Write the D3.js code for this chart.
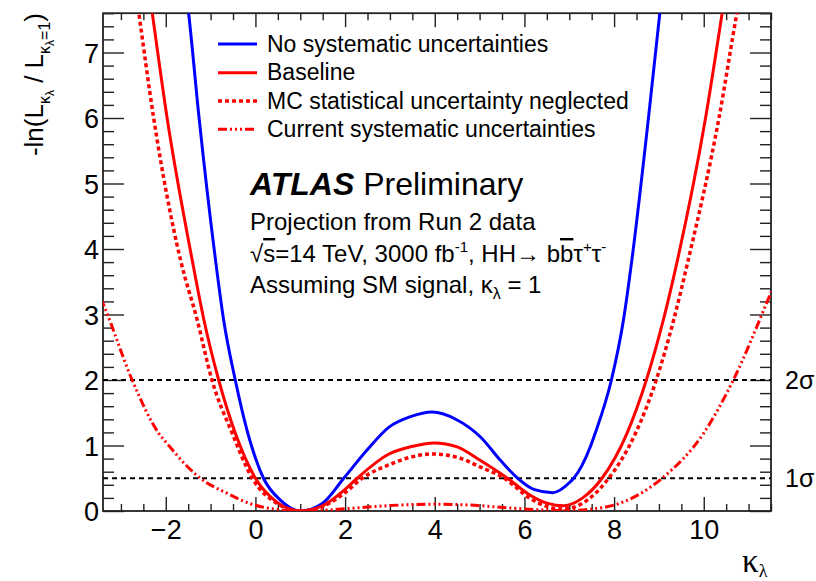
<!DOCTYPE html>
<html><head><meta charset="utf-8">
<script src="https://cdn.jsdelivr.net/npm/d3@7"></script>
<style>
body{margin:0;background:#fff}
text{font-family:"Liberation Sans",Arial,Helvetica,sans-serif;fill:#000}
</style></head>
<body><svg id="c" width="816" height="581"></svg>
<script>
// ---- data ----
const kNoSyst  = [-1.56,-1.49,-1.26,-0.89,-0.71,-0.45,-0.19,0.18,0.55,1.0,1.5,1.97,2.49,2.98,3.46,3.94,4.5,5.02,5.47,5.85,6.21,6.63,7.03,7.1,7.47,7.58,7.94,8.21,8.40,8.77,9.02,9.08];
const vNoSyst  = [8.0,7.6,6.02,3.83,2.92,2.0,1.24,0.5,0.17,0.0,0.12,0.5,0.93,1.28,1.44,1.51,1.39,1.13,0.77,0.5,0.33,0.28,0.45,0.5,0.98,1.19,2.0,2.92,3.85,6.02,7.6,8.0];

const kBaseline = [-2.38,-2.30,-1.97,-1.41,-1.15,-0.82,-0.45,0.0,0.47,1.0,1.5,2.0,2.27,2.98,3.46,3.99,4.5,5.02,5.62,6.13,6.5,6.88,7.3,7.73,8.29,8.72,9.1,9.42,10.04,10.41,10.5];
const vBaseline = [8.0,7.6,6.0,3.83,2.92,2.0,1.19,0.5,0.14,0.0,0.08,0.33,0.5,0.87,0.98,1.04,0.98,0.77,0.5,0.24,0.12,0.08,0.2,0.5,1.19,2.0,2.92,3.85,6.0,7.6,8.0];

const kMCneg = [-2.68,-2.60,-2.27,-1.67,-1.30,-0.97,-0.52,-0.07,0.45,1.0,1.5,2.0,2.38,2.96,3.45,3.94,4.5,5.02,5.55,6.13,6.5,6.88,7.3,7.88,8.48,8.94,9.33,9.66,10.34,10.74,10.85];
const vMCneg = [8.0,7.6,6.0,3.83,2.92,2.0,1.19,0.5,0.13,0.0,0.07,0.28,0.5,0.70,0.82,0.87,0.82,0.67,0.5,0.19,0.07,0.03,0.12,0.5,1.19,2.0,2.92,3.85,6.0,7.6,8.0];

const kCurrent = [-3.45,-3.37,-2.75,-2.16,-1.97,-1.52,-1.23,-0.63,-0.11,0.4,1.0,1.7,2.5,3.2,4.0,4.8,5.6,6.3,6.9,7.5,8.0,9.07,10.0,10.66,11.49,11.6];
const vCurrent = [3.25,3.12,2.0,1.19,1.03,0.68,0.5,0.27,0.11,0.03,0.0,0.02,0.06,0.09,0.105,0.09,0.05,0.02,0.005,0.03,0.09,0.5,1.19,2.0,3.32,3.5];

const xMajor = [-2,0,2,4,6,8,10];
const yMajor = [0,1,2,3,4,5,6,7];
const sigmaLevels = [2.0, 0.5];
const sigmaLabels = ["2σ","1σ"];
const legendLabels = ["No systematic uncertainties","Baseline","MC statistical uncertainty neglected","Current systematic uncertainties"];

// ---- layout ----
const svg = d3.select("#c");
const L=103, R=771, T=13.2, B=511;
const x = d3.scaleLinear().domain([-3.4,11.5]).range([L,R]);
const y = d3.scaleLinear().domain([0,7.6]).range([B,T]);
const xMinor = d3.range(-3,11.51,0.5).filter(v=>!xMajor.includes(v));
const yMinor = d3.range(0,7.61,0.2).map(v=>+v.toFixed(1)).filter(v=>!yMajor.includes(v));

svg.append("defs").append("clipPath").attr("id","clip")
  .append("rect").attr("x",L).attr("y",T).attr("width",R-L).attr("height",B-T);

function styleAxis(g){ g.select(".domain").remove(); g.selectAll("line").attr("stroke","#222").attr("stroke-width",1.4); }

// bottom
svg.append("g").attr("transform",`translate(0,${B})`)
  .call(d3.axisBottom(x).tickValues(xMajor).tickSize(-14).tickPadding(9))
  .call(styleAxis).selectAll("text").attr("font-size",27);
svg.append("g").attr("transform",`translate(0,${B})`)
  .call(d3.axisBottom(x).tickValues(xMinor).tickSize(-7).tickFormat("")).call(styleAxis);
// top
svg.append("g").attr("transform",`translate(0,${T})`)
  .call(d3.axisTop(x).tickValues(xMajor).tickSize(-14).tickFormat("")).call(styleAxis);
svg.append("g").attr("transform",`translate(0,${T})`)
  .call(d3.axisTop(x).tickValues(xMinor).tickSize(-7).tickFormat("")).call(styleAxis);
// left
svg.append("g").attr("transform",`translate(${L},0)`)
  .call(d3.axisLeft(y).tickValues(yMajor).tickSize(-21).tickPadding(4).tickFormat(d3.format("d")))
  .call(styleAxis).selectAll("text").attr("font-size",27).attr("dy","0.36em");
svg.append("g").attr("transform",`translate(${L},0)`)
  .call(d3.axisLeft(y).tickValues(yMinor).tickSize(-11).tickFormat("")).call(styleAxis);
// right
svg.append("g").attr("transform",`translate(${R},0)`)
  .call(d3.axisRight(y).tickValues(yMajor).tickSize(-21).tickFormat("")).call(styleAxis);
svg.append("g").attr("transform",`translate(${R},0)`)
  .call(d3.axisRight(y).tickValues(yMinor).tickSize(-11).tickFormat("")).call(styleAxis);

// frame
svg.append("rect").attr("x",L).attr("y",T).attr("width",R-L).attr("height",B-T)
  .attr("fill","none").attr("stroke","#222").attr("stroke-width",1.8);

// sigma lines
svg.selectAll(".sig").data(sigmaLevels).enter().append("line")
  .attr("x1",L).attr("x2",R).attr("y1",d=>y(d)).attr("y2",d=>y(d))
  .attr("stroke","#000").attr("stroke-width",2).attr("stroke-dasharray","5 4");
svg.selectAll(".sigl").data(sigmaLevels).enter().append("text")
  .attr("x",785).attr("y",d=>y(d)+9).attr("font-size",25).text((d,i)=>sigmaLabels[i]);

// curves
const series = [
  {k:kNoSyst, v:vNoSyst, color:"#0000ff", dash:null, w:3},
  {k:kBaseline, v:vBaseline, color:"#ff0000", dash:null, w:3},
  {k:kMCneg, v:vMCneg, color:"#ff0000", dash:"4 3", w:3.5},
  {k:kCurrent, v:vCurrent, color:"#ff0000", dash:"9 3 2 3 2 3 2 3", w:3}
];
const line = d3.line().x(d=>x(d[0])).y(d=>y(d[1])).curve(d3.curveMonotoneX);
const cg = svg.append("g").attr("clip-path","url(#clip)");
series.forEach(s=>{
  cg.append("path").attr("d",line(s.k.map((k,i)=>[k,s.v[i]])))
    .attr("fill","none").attr("stroke",s.color).attr("stroke-width",s.w)
    .attr("stroke-dasharray",s.dash);
});

// legend
const legY = [44,72.7,101,129.3];
series.forEach((s,i)=>{
  svg.append("line").attr("x1",218).attr("x2",257).attr("y1",legY[i]).attr("y2",legY[i])
    .attr("stroke",s.color).attr("stroke-width",s.w).attr("stroke-dasharray",s.dash);
  svg.append("text").attr("x",267).attr("y",legY[i]+7.5).attr("font-size",23).text(legendLabels[i]);
});

// ATLAS text block
const t1 = svg.append("text").attr("x",250).attr("y",195).attr("font-size",32);
t1.append("tspan").attr("font-weight","bold").attr("font-style","italic").text("ATLAS");
t1.append("tspan").text(" Preliminary");
svg.append("text").attr("x",250).attr("y",230).attr("font-size",24).text("Projection from Run 2 data");
const t3 = svg.append("text").attr("x",250).attr("y",262).attr("font-size",24);
t3.append("tspan").text("√");
t3.append("tspan").attr("text-decoration","overline").text("s");
t3.append("tspan").text("=14 TeV, 3000 fb");
t3.append("tspan").attr("font-size",15).attr("dy",-10).text("-1");
t3.append("tspan").attr("dy",10).text(", HH→ b");
t3.append("tspan").attr("text-decoration","overline").text("b");
t3.append("tspan").text("τ");
t3.append("tspan").attr("font-size",15).attr("dy",-10).text("+");
t3.append("tspan").attr("dy",10).text("τ");
t3.append("tspan").attr("font-size",15).attr("dy",-10).text("-");
const t4 = svg.append("text").attr("x",250).attr("y",293).attr("font-size",24);
t4.append("tspan").text("Assuming SM signal, κ");
t4.append("tspan").attr("font-size",16).attr("dy",6).text("λ");
t4.append("tspan").attr("dy",-6).text(" = 1");

// y-axis title
const yt = svg.append("text").attr("transform","translate(43,13) rotate(-90)")
  .attr("text-anchor","end").attr("font-size",26);
yt.append("tspan").text("-ln(L");
yt.append("tspan").attr("font-size",16).attr("dy",7).text("κ");
yt.append("tspan").attr("font-size",12).attr("dy",4).text("λ");
yt.append("tspan").attr("dy",-11).text(" / L");
yt.append("tspan").attr("font-size",16).attr("dy",7).text("κ");
yt.append("tspan").attr("font-size",12).attr("dy",4).text("λ");
yt.append("tspan").attr("font-size",16).attr("dy",-4).text("=1");
yt.append("tspan").attr("dy",-7).text(")");

// x-axis title
const xt = svg.append("text").attr("x",742).attr("y",572).attr("font-size",33)
  .style("font-family","'Liberation Serif',serif");
xt.append("tspan").text("κ");
xt.append("tspan").attr("font-size",18).attr("dy",5).text("λ");
</script></body></html>
